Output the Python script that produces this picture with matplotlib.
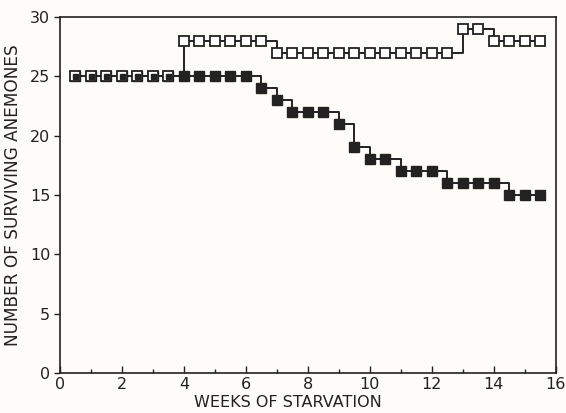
import numpy as np
import matplotlib.pyplot as plt
from matplotlib.ticker import MultipleLocator

# Weeks at which anemones were counted (every half week)
weeks = [0.5, 1.0, 1.5, 2.0, 2.5, 3.0, 3.5, 4.0, 4.5, 5.0, 5.5, 6.0, 6.5, 7.0, 7.5, 8.0,
         8.5, 9.0, 9.5, 10.0, 10.5, 11.0, 11.5, 12.0, 12.5, 13.0, 13.5, 14.0, 14.5, 15.0, 15.5]

# Open squares
open_counts = [25, 25, 25, 25, 25, 25, 25, 28, 28, 28, 28, 28, 28, 27, 27, 27,
               27, 27, 27, 27, 27, 27, 27, 27, 27, 29, 29, 28, 28, 28, 28]

# Filled squares
filled_counts = [25, 25, 25, 25, 25, 25, 25, 25, 25, 25, 25, 25, 24, 23, 22, 22,
                 22, 21, 19, 18, 18, 17, 17, 17, 16, 16, 16, 16, 15, 15, 15]

ink = '#222222'
bg = '#fdfcf9'

fig = plt.figure(figsize=(5.66, 4.13), dpi=100, facecolor=bg)
ax = fig.add_axes([0.106, 0.097, 0.876, 0.862], facecolor=bg)

# Filled series first, open series on top
ax.plot(weeks, filled_counts, drawstyle='steps-post', color=ink, linewidth=1.4)
ax.plot(weeks, filled_counts, linestyle='none', marker='s', markersize=7.3,
        markerfacecolor=ink, markeredgecolor=ink)
ax.plot(weeks, open_counts, drawstyle='steps-post', color=ink, linewidth=1.4)
ax.plot(weeks, open_counts, linestyle='none', marker='s', markersize=7.3,
        markerfacecolor='white', markeredgecolor=ink, markeredgewidth=1.3)

# Where both groups overlap the markers look half filled
w = np.array(weeks)
same = np.array(open_counts) == np.array(filled_counts)
same[7:] = False
ax.plot(w[same], np.array(open_counts)[same], linestyle='none', marker='s',
        markersize=3.6, markerfacecolor=ink, markeredgecolor=ink)

ax.set_xlim(0, 16)
ax.set_ylim(0, 30)
ax.xaxis.set_major_locator(MultipleLocator(2))
ax.xaxis.set_minor_locator(MultipleLocator(1))
ax.yaxis.set_major_locator(MultipleLocator(5))
ax.tick_params(axis='both', which='major', direction='in', length=5, width=1,
               color=ink, labelsize=11.5, labelcolor=ink, pad=3)
ax.tick_params(axis='x', which='minor', direction='in', length=3, width=1, color=ink)
ax.tick_params(axis='y', which='major', direction='out', length=4)
for s in ax.spines.values():
    s.set_color(ink)
    s.set_linewidth(1.2)

ax.set_xlabel('WEEKS OF STARVATION', fontsize=11.5, color=ink, labelpad=3)
ax.xaxis.set_label_coords(0.46, -0.062, transform=ax.transAxes)
ax.xaxis.label.set_va('top')
ax.set_ylabel('NUMBER OF SURVIVING ANEMONES', fontsize=12.2, color=ink, labelpad=6)

plt.savefig('out.png', dpi=100, facecolor=bg)
